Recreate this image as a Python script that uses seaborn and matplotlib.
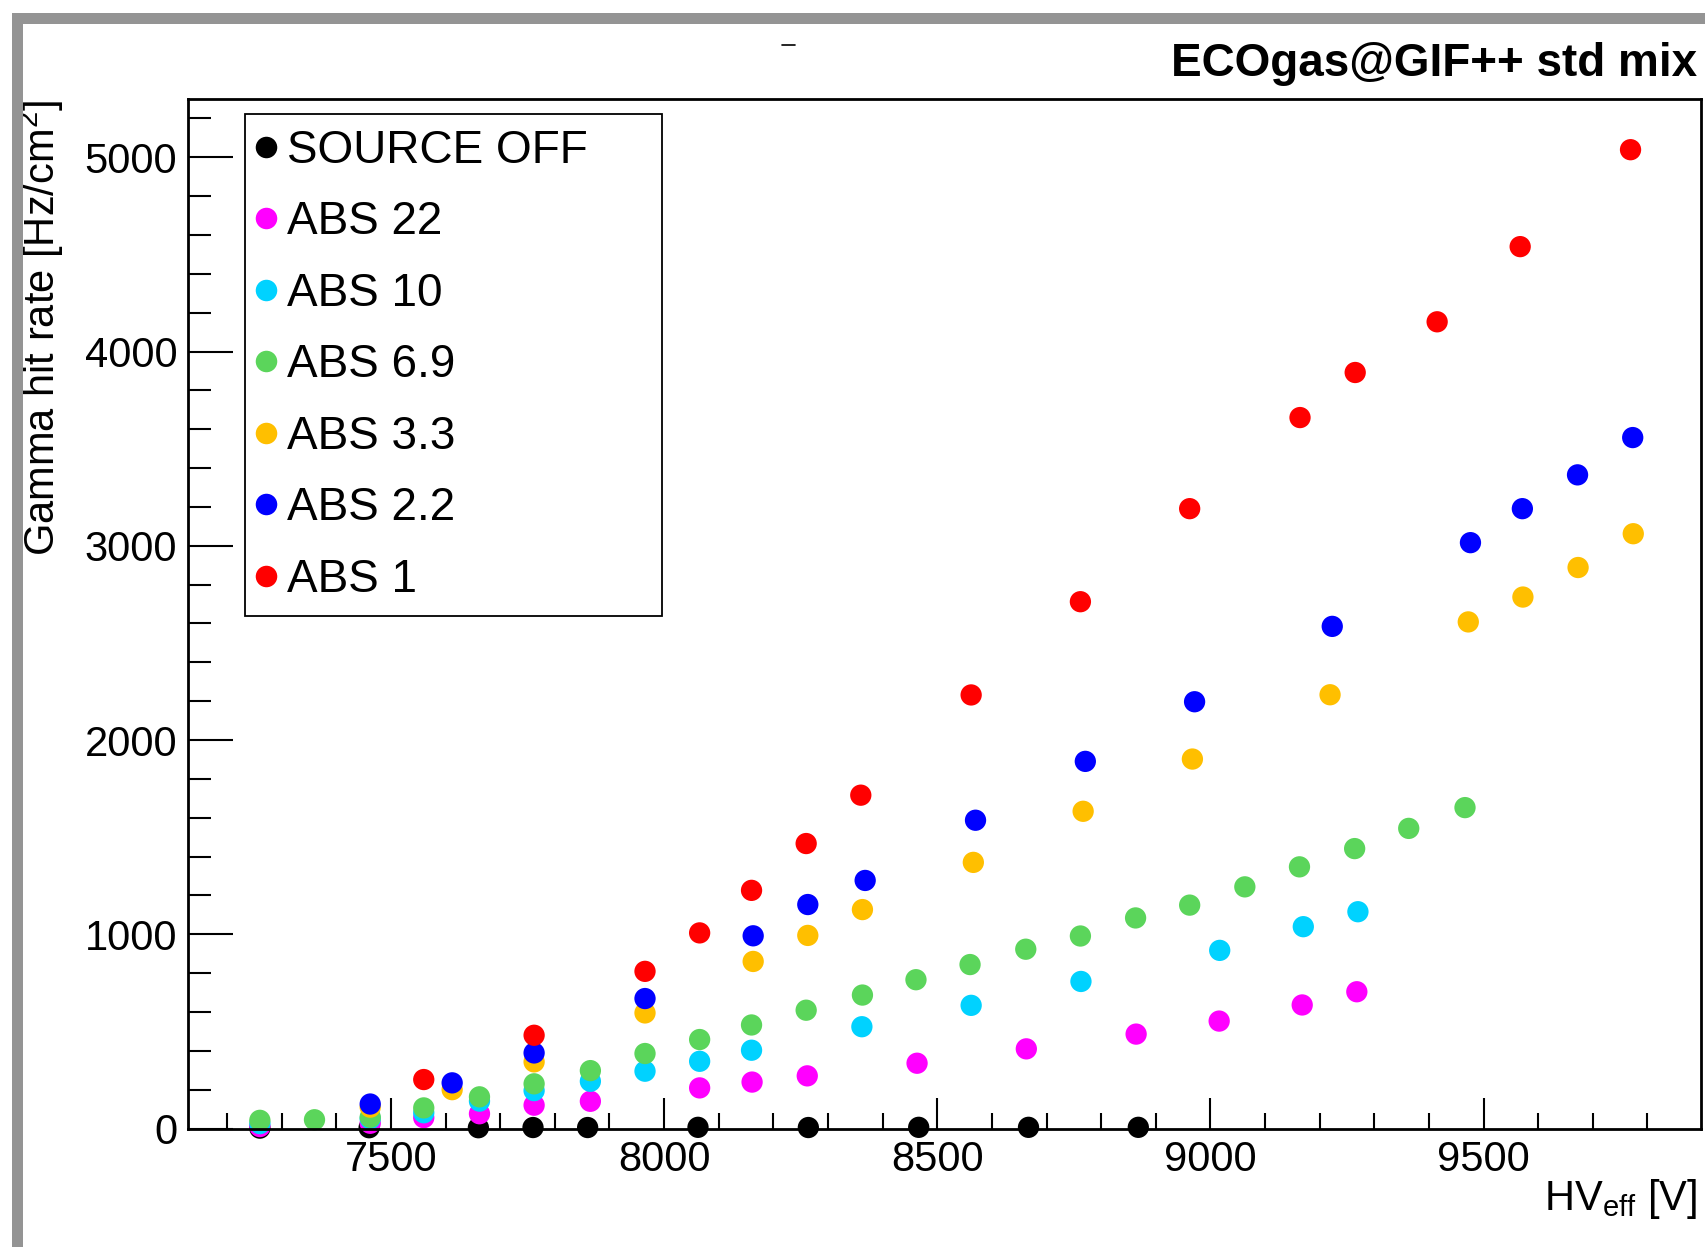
import numpy as np
import pandas as pd
import matplotlib
matplotlib.use('Agg')
import matplotlib.pyplot as plt
import seaborn as sns
from matplotlib.lines import Line2D
from matplotlib.patches import Rectangle
from matplotlib.ticker import MultipleLocator

# 1. data
labels = ['SOURCE OFF', 'ABS 22', 'ABS 10', 'ABS 6.9', 'ABS 3.3', 'ABS 2.2', 'ABS 1']
colors = ['#000000', '#ff00ff', '#00d2ff', '#5bd55b', '#ffbf00', '#0000ff', '#ff0000']

hv_off = [7260, 7460, 7660, 7760, 7860, 8062, 8264, 8466, 8667, 8868]
rate_off = [2, 4, 4, 5, 5, 6, 5, 6, 6, 6]

hv_abs22 = [7260, 7462, 7560, 7662, 7762, 7865, 8065, 8161, 8262, 8463, 8663, 8864, 9016, 9168, 9268]
rate_abs22 = [10, 27, 56, 76, 120, 140, 209, 239, 271, 336, 410, 486, 553, 636, 704]

hv_abs10 = [7260, 7462, 7560, 7662, 7762, 7865, 7965, 8065, 8160, 8362, 8562, 8763, 9017, 9170, 9270]
rate_abs10 = [25, 50, 81, 141, 195, 243, 295, 346, 403, 524, 634, 757, 917, 1039, 1116]

hv_abs69 = [7260, 7360, 7462, 7560, 7662, 7762, 7865, 7965, 8065, 8160, 8260, 8363,
            8461, 8560, 8662, 8762, 8863, 8962, 9063, 9163, 9264, 9363, 9466]
rate_abs69 = [42, 45, 58, 106, 163, 230, 298, 386, 458, 533, 609, 687,
              766, 844, 923, 991, 1084, 1150, 1244, 1347, 1441, 1545, 1652]

hv_abs33 = [7462, 7612, 7762, 7965, 8163, 8263, 8363, 8566, 8767, 8967, 9219, 9472, 9572, 9673, 9774]
rate_abs33 = [110, 200, 343, 595, 860, 994, 1127, 1370, 1633, 1902, 2233, 2608, 2736, 2888, 3062]

hv_abs22b = [7462, 7612, 7762, 7965, 8163, 8263, 8368, 8570, 8771, 8971, 9223, 9476, 9571, 9672, 9773]
rate_abs22b = [126, 235, 389, 669, 992, 1153, 1277, 1587, 1890, 2197, 2585, 3016, 3191, 3365, 3557]

hv_abs1 = [7560, 7762, 7965, 8065, 8160, 8260, 8360, 8562, 8762, 8962, 9164, 9265, 9415, 9567, 9769]
rate_abs1 = [252, 480, 809, 1007, 1226, 1467, 1716, 2232, 2712, 3191, 3660, 3892, 4153, 4540, 5039]

x_major = [7500, 8000, 8500, 9000, 9500]
y_major = [0, 1000, 2000, 3000, 4000, 5000]

series = [(hv_off, rate_off), (hv_abs22, rate_abs22), (hv_abs10, rate_abs10), (hv_abs69, rate_abs69),
          (hv_abs33, rate_abs33), (hv_abs22b, rate_abs22b), (hv_abs1, rate_abs1)]

# long table, kept in legend order so later series are drawn on top
df = pd.concat([pd.DataFrame({'hv': h, 'rate': r, 'series': lab})
                for (h, r), lab in zip(series, labels)], ignore_index=True)

# 2. style
sns.set_style('ticks')
plt.rcParams['font.family'] = ['Liberation Sans', 'DejaVu Sans']
plt.rcParams['mathtext.fontset'] = 'custom'
plt.rcParams['mathtext.rm'] = 'Liberation Sans'
plt.rcParams['mathtext.it'] = 'Liberation Sans:italic'
plt.rcParams['mathtext.bf'] = 'Liberation Sans:bold'
plt.rcParams['text.color'] = 'black'
plt.rcParams['axes.labelcolor'] = 'black'
plt.rcParams['xtick.color'] = 'black'
plt.rcParams['ytick.color'] = 'black'

W, H = 1705, 1247
fig = plt.figure(figsize=(W / 100, H / 100), dpi=100)
fig.patch.set_facecolor('white')

left, right, top, bottom = 188.3, 1701, 99, 1128.5
ax = fig.add_axes([left / W, 1 - bottom / H, (right - left) / W, (bottom - top) / H])

# 3. points
sns.scatterplot(data=df, x='hv', y='rate', hue='series', hue_order=labels,
                palette=dict(zip(labels, colors)), s=235, linewidth=0,
                legend=False, clip_on=False, ax=ax)

ax.set_xlim(7129, 9898)
ax.set_ylim(0, 5300)
ax.set_xticks(x_major)
ax.set_yticks(y_major)
ax.xaxis.set_minor_locator(MultipleLocator(100))
ax.yaxis.set_minor_locator(MultipleLocator(200))
ax.set_xlabel('')
ax.set_ylabel('')
ax.tick_params(which='both', direction='in', top=False, right=False, width=1.5,
               color='black', labelcolor='black')
ax.tick_params(axis='x', which='major', length=22.3, pad=8, labelsize=30)
ax.tick_params(axis='x', which='minor', length=11.5)
ax.tick_params(axis='y', which='major', length=32.4, pad=8, labelsize=30)
ax.tick_params(axis='y', which='minor', length=16.2)
for sp in ax.spines.values():
    sp.set_visible(True)
    sp.set_linewidth(2)
    sp.set_color('black')

# 4. legend
handles = [Line2D([], [], ls='none', marker='o', ms=15.5, mfc=c, mec='none') for c in colors]
leg = ax.legend(handles, labels, loc='upper left', bbox_to_anchor=(0.0375, 0, 0.2755, 0.9855),
                mode='expand', borderaxespad=0, fontsize=33, handlelength=0.285,
                handletextpad=0.30, labelspacing=0.60, borderpad=0.32,
                frameon=True, fancybox=False, edgecolor='black', framealpha=1)
leg.get_frame().set_linewidth(1.3)
for t in leg.get_texts():
    t.set_color('black')

# 5. texts
fig.text(1697 / W, 1 - 76 / H, 'ECOgas@GIF++ std mix', ha='right', va='baseline',
         fontsize=33, fontweight='bold', color='black')
fig.text(1697 / W, 1 - 1210 / H, r'HV$_{\mathrm{eff}}$ [V]', ha='right', va='baseline',
         fontsize=30, color='black')
fig.text(66 / W, 1 - 100 / H, r'Gamma hit rate [Hz/cm$^{2}$]', rotation=90,
         ha='right', va='top', fontsize=30, color='black', zorder=1)
fig.add_artist(Line2D([782 / W, 795 / W], [1 - 45 / H, 1 - 45 / H], color='black', lw=1.2))

# grey canvas border (top and left)
fig.add_artist(Rectangle((12 / W, 0), 10.7 / W, 1 - 13.3 / H, color='#949494', lw=0, zorder=5))
fig.add_artist(Rectangle((12 / W, 1 - 24 / H), 1 - 12 / W, 10.7 / H, color='#949494', lw=0, zorder=5))

fig.savefig('out.png', dpi=100)
plt.close()
